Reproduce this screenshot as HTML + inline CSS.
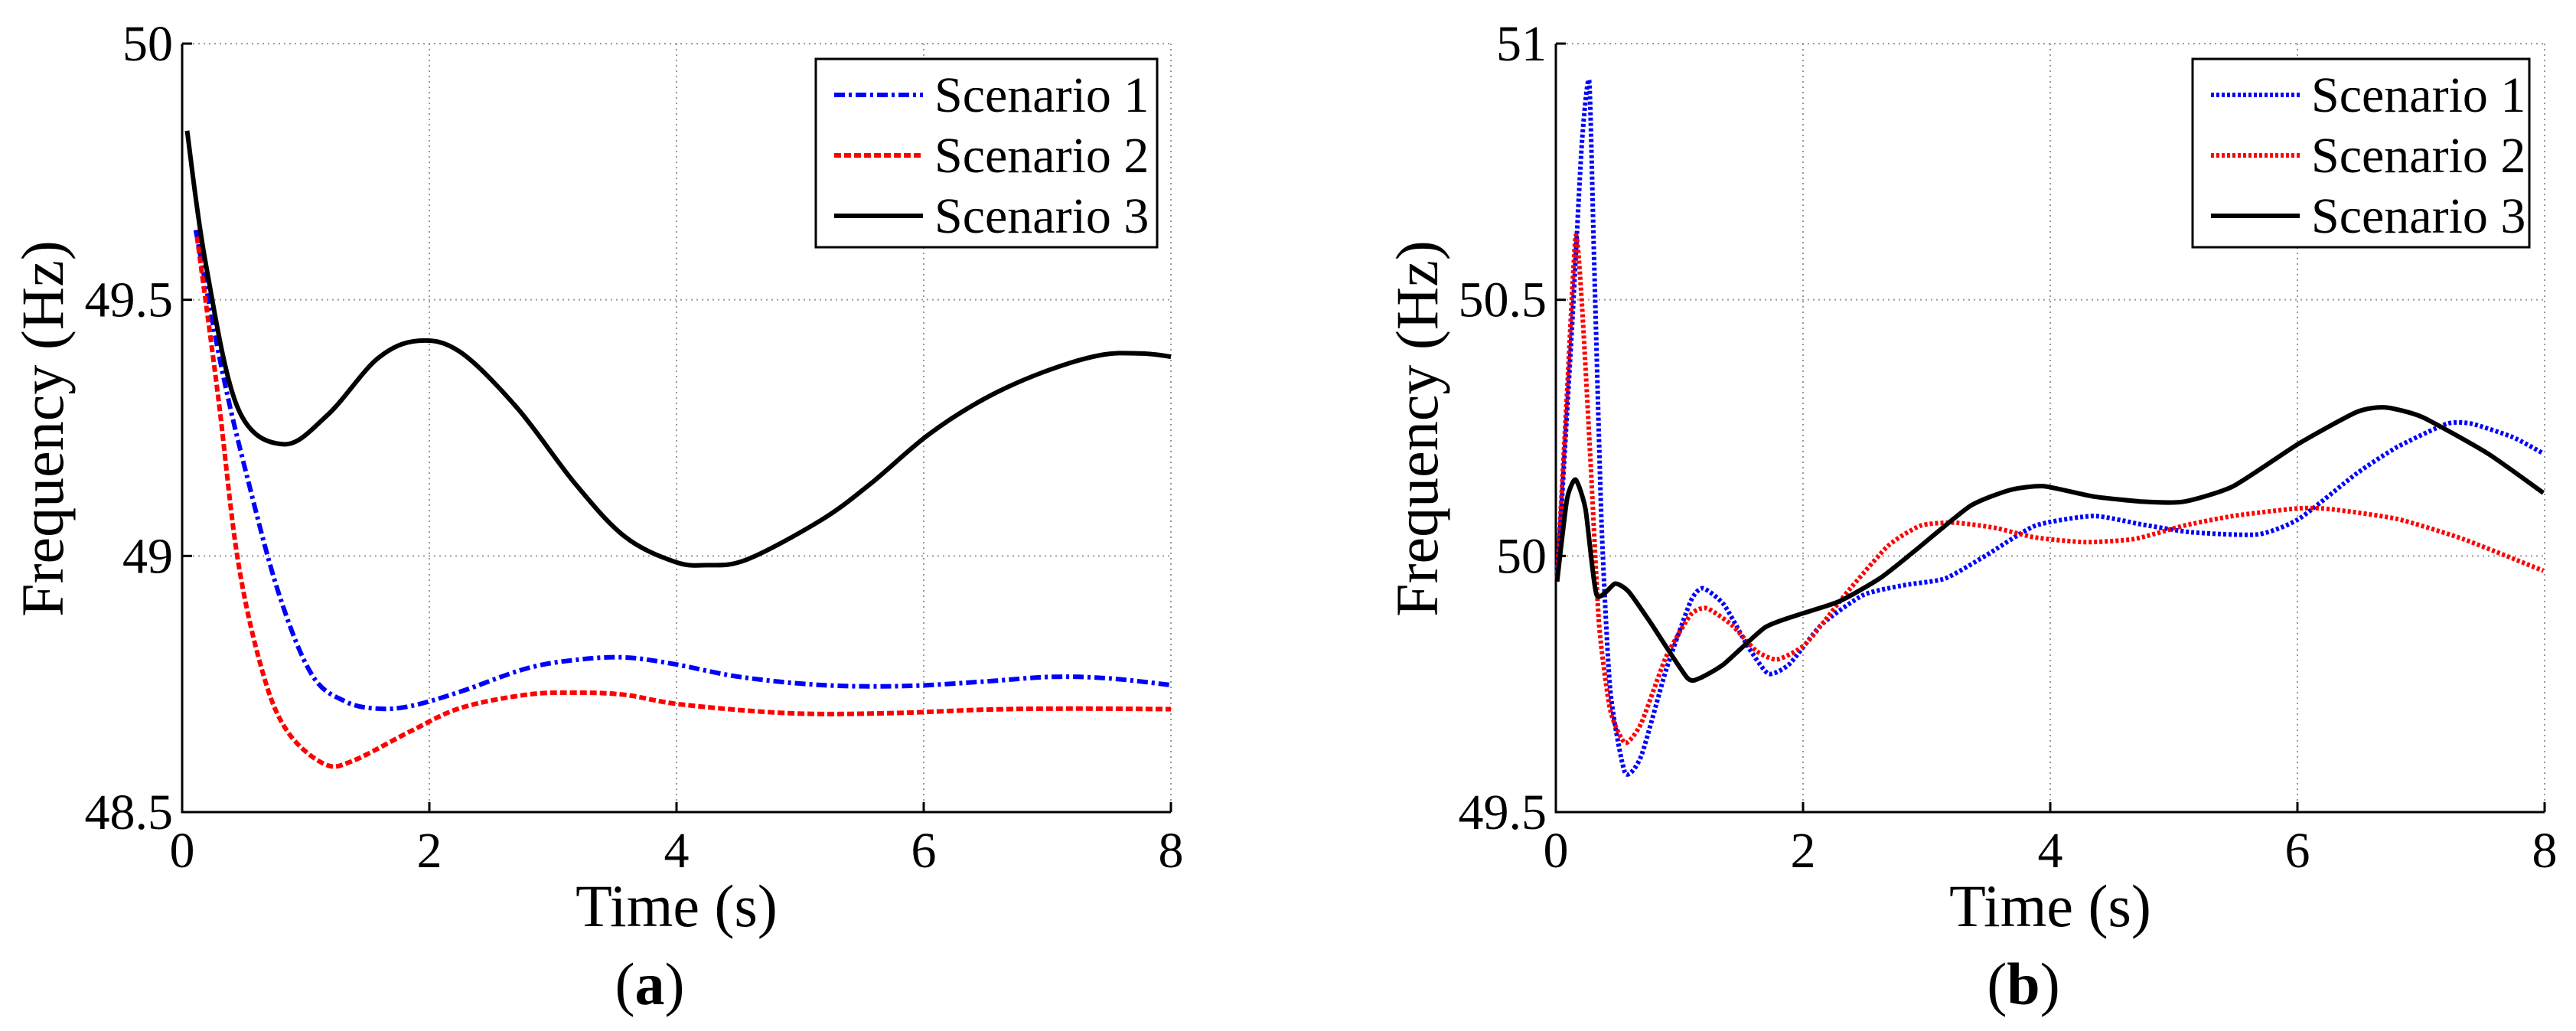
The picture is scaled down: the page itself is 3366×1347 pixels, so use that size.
<!DOCTYPE html>
<html><head><meta charset="utf-8"><style>
html,body{margin:0;padding:0;background:#fff;}
svg, svg text, svg tspan{font-family:"Liberation Serif","DejaVu Serif","Times New Roman",Times,serif !important;}
svg{display:block;}
</style></head><body>
<svg id="fig" width="3366" height="1347" viewBox="0 0 3366 1347" xmlns="http://www.w3.org/2000/svg" font-family="'Liberation Serif', 'DejaVu Serif', serif"></svg>
<script>
// ---- Data: panel (a) ----
const xTicks = [0, 2, 4, 6, 8];
const aYTicks = [48.5, 49, 49.5, 50];
const aYTickLabels = ["48.5", "49", "49.5", "50"];
const aS1t = [0.11,0.32,0.52,0.78,1.05,1.32,1.58,1.85,2.25,2.78,3.18,3.58,3.98,4.51,5.17,5.84,6.5,7.03,7.5,8];
const aS1v = [49.636,49.366,49.16,48.928,48.768,48.716,48.702,48.707,48.735,48.78,48.797,48.802,48.789,48.764,48.748,48.746,48.755,48.764,48.761,48.748];
const aS2t = [0.12,0.29,0.45,0.65,0.85,1.15,1.38,1.85,2.25,2.78,3.18,3.58,4.04,4.91,5.71,6.5,7.17,8];
const aS2v = [49.623,49.314,48.993,48.774,48.658,48.594,48.6,48.658,48.703,48.729,48.733,48.729,48.71,48.693,48.693,48.7,48.702,48.701];
const aS3t = [0.04,0.19,0.45,0.82,1.18,1.58,1.91,2.25,2.71,3.18,3.58,3.98,4.24,4.57,5.17,5.57,6.04,6.5,6.97,7.43,7.77,8];
const aS3v = [49.83,49.572,49.289,49.218,49.276,49.385,49.42,49.398,49.289,49.141,49.038,48.989,48.982,48.993,49.07,49.141,49.237,49.308,49.359,49.392,49.395,49.389];
// ---- Data: panel (b) ----
const bYTicks = [49.5, 50, 50.5, 51];
const bYTickLabels = ["49.5", "50", "50.5", "51"];
const bS1t = [0.01,0.13,0.21,0.27,0.31,0.37,0.44,0.56,0.69,0.89,1.09,1.19,1.36,1.56,1.72,1.89,2.15,2.49,2.82,3.15,3.48,3.88,4.35,4.75,5.15,5.68,6.01,6.48,6.81,7.21,7.41,7.74,7.99];
const bS1v = [49.95,50.444,50.804,50.926,50.572,50.059,49.738,49.577,49.609,49.776,49.911,49.937,49.905,49.821,49.77,49.789,49.866,49.924,49.943,49.956,50.001,50.059,50.078,50.061,50.046,50.042,50.072,50.161,50.213,50.258,50.258,50.232,50.2];
const bS2t = [0.01,0.09,0.16,0.21,0.28,0.35,0.44,0.56,0.69,0.89,1.09,1.22,1.42,1.62,1.79,2.02,2.36,2.69,2.95,3.22,3.55,3.88,4.28,4.68,5.08,5.48,6.01,6.28,6.81,7.34,7.99];
const bS2v = [49.956,50.316,50.624,50.495,50.187,49.866,49.699,49.635,49.673,49.802,49.885,49.898,49.866,49.815,49.798,49.828,49.93,50.02,50.059,50.065,50.055,50.036,50.027,50.033,50.059,50.078,50.093,50.091,50.072,50.033,49.971];
const bS3t = [0.01,0.09,0.16,0.24,0.33,0.48,0.59,0.76,1.06,1.16,1.36,1.69,1.96,2.29,2.62,2.89,3.35,3.68,3.95,4.35,4.75,5.08,5.48,6.01,6.48,6.71,7.01,7.54,7.99];
const bS3v = [49.95,50.11,50.149,50.091,49.924,49.946,49.93,49.872,49.763,49.761,49.789,49.86,49.885,49.911,49.956,50.007,50.097,50.129,50.136,50.116,50.106,50.106,50.136,50.219,50.281,50.29,50.271,50.2,50.123];
const seriesNames = ["Scenario 1", "Scenario 2", "Scenario 3"];

const NS = "http://www.w3.org/2000/svg";
const svg = document.getElementById("fig");
function mk(tag, attrs, parent, text) {
  const e = document.createElementNS(NS, tag);
  for (const k in attrs) e.setAttribute(k, attrs[k]);
  if (text !== undefined) e.textContent = text;
  (parent || svg).appendChild(e);
  return e;
}
function smoothPath(pts, sharp) {
  let d = "M" + pts[0][0].toFixed(1) + "," + pts[0][1].toFixed(1);
  for (let i = 0; i < pts.length - 1; i++) {
    const p0 = pts[Math.max(0, i - 1)], p1 = pts[i], p2 = pts[i + 1], p3 = pts[Math.min(pts.length - 1, i + 2)];
    const k = sharp ? 0.1 : 1 / 6;
    const c1 = [p1[0] + (p2[0] - p0[0]) * k, p1[1] + (p2[1] - p0[1]) * k];
    const c2 = [p2[0] - (p3[0] - p1[0]) * k, p2[1] - (p3[1] - p1[1]) * k];
    d += " C" + c1[0].toFixed(1) + "," + c1[1].toFixed(1) + " " + c2[0].toFixed(1) + "," + c2[1].toFixed(1) + " " + p2[0].toFixed(1) + "," + p2[1].toFixed(1);
  }
  return d;
}

function panel(cfg) {
  const g = mk("g", {});
  
  
  const L = cfg.L, R = cfg.R, T = 57, B = 1061;
  const xs = t => L + (t - 0) / 8 * (R - L);
  const ys = v => B - (v - cfg.ymin) / (cfg.ymax - cfg.ymin) * (B - T);
  const FF = "'Liberation Serif', 'DejaVu Serif', serif";
  xTicks.forEach(t => {
    const l = mk("line", {x1: xs(t), x2: xs(t), y1: T, y2: B, stroke: "#999", "stroke-width": 2, "stroke-dasharray": "2 5"}, g);
    
    
  });
  cfg.yTicks.forEach(v => {
    const l = mk("line", {x1: L, x2: R, y1: ys(v), y2: ys(v), stroke: "#999", "stroke-width": 2, "stroke-dasharray": "2 5"}, g);
    
    
  });
  const ax = mk("path", {d: `M${L},${T} L${L},${B} L${R},${B}`, fill: "none", stroke: "#000", "stroke-width": 3}, g);
  
  
  xTicks.forEach(t => {
    const tk = mk("line", {x1: xs(t), x2: xs(t), y1: B, y2: B - 13, stroke: "#000", "stroke-width": 3}, g);
    
    
    const tx = mk("text", {x: xs(t), y: B + 72, "font-size": 66, "font-family": FF, "text-anchor": "middle"}, g, String(t));
    
    
  });
  cfg.yTicks.forEach((v, i) => {
    const tk = mk("line", {x1: L, x2: L + 13, y1: ys(v), y2: ys(v), stroke: "#000", "stroke-width": 3}, g);
    
    
    const tx = mk("text", {x: L - 12, y: ys(v) + 22, "font-size": 66, "font-family": FF, "text-anchor": "end"}, g, cfg.yLabels[i]);
    
    
  });
  cfg.series.forEach((s, i) => {
    const pts = s.t.map((t, j) => [xs(t), ys(s.v[j])]);
    const p = mk("path", {d: smoothPath(pts, cfg.id === "b"), fill: "none", stroke: s.color, "stroke-width": s.w, "stroke-dasharray": s.dash, "stroke-linejoin": "round"}, g);
    
    
  });
  const yl = mk("text", {x: 0, y: 0, "font-size": 78, "font-family": FF, "text-anchor": "middle", transform: `translate(${cfg.ylx},560) rotate(-90)`}, g, "Frequency (Hz)");
  
  
  const xl = mk("text", {x: (L + R) / 2, y: 1210, "font-size": 78, "font-family": FF, "text-anchor": "middle"}, g, "Time (s)");
  
  
  const cap = mk("text", {x: cfg.capx, y: 1312, "font-size": 78, "font-family": FF, "text-anchor": "middle"}, g);
  
  
  mk("tspan", {}, cap, "(");
  mk("tspan", {"font-weight": "bold"}, cap, cfg.id);
  mk("tspan", {}, cap, ")");
  const lg = mk("g", {}, g);
  
  
  const lb = mk("rect", {x: cfg.lgx, y: 77, width: cfg.lgw, height: 246, fill: "#fff", stroke: "#000", "stroke-width": 3}, lg);
  
  
  cfg.series.forEach((s, i) => {
    const y = 124 + i * 79;
    const ln = mk("line", {x1: cfg.lgx + 24, x2: cfg.lgx + 140, y1: y, y2: y, stroke: s.color, "stroke-width": s.w, "stroke-dasharray": s.dash}, lg);
    
    
    const tx = mk("text", {x: cfg.lgx + 155, y: y + 22, "font-size": 66, "font-family": FF}, lg, seriesNames[i]);
    
    
  });
}

panel({id: "a", L: 238, R: 1530, ymin: 48.5, ymax: 50, yTicks: aYTicks, yLabels: aYTickLabels, ylx: 82, capx: 849,
  lgx: 1066, lgw: 446,
  series: [
    {t: aS1t, v: aS1v, color: "#0000ff", w: 6, dash: "14 5 4 5"},
    {t: aS2t, v: aS2v, color: "#ff0000", w: 6, dash: "9 4"},
    {t: aS3t, v: aS3v, color: "#000", w: 6, dash: "none"}
  ]});
panel({id: "b", L: 2033, R: 3325, ymin: 49.5, ymax: 51, yTicks: bYTicks, yLabels: bYTickLabels, ylx: 1878, capx: 2644,
  lgx: 2865, lgw: 440,
  series: [
    {t: bS1t, v: bS1v, color: "#0000ff", w: 6, dash: "4 3"},
    {t: bS2t, v: bS2v, color: "#ff0000", w: 6, dash: "4 3"},
    {t: bS3t, v: bS3v, color: "#000", w: 6, dash: "none"}
  ]});
</script>
</body></html>
